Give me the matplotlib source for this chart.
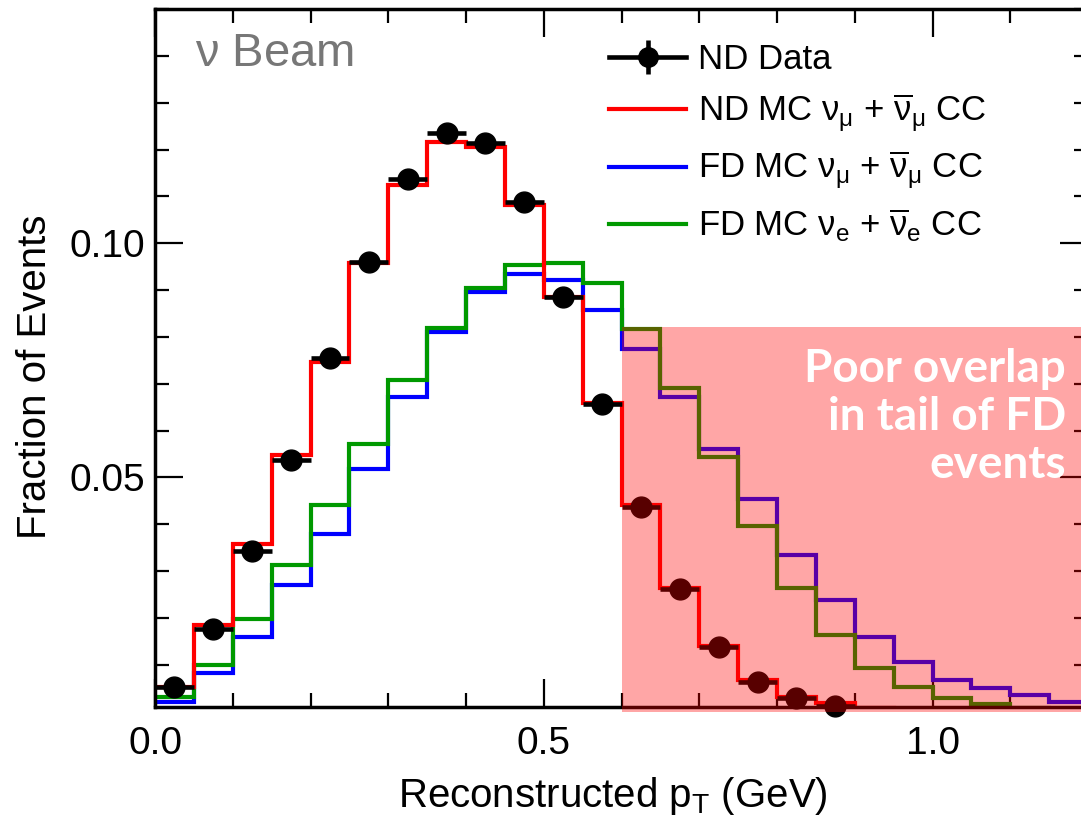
import numpy as np
import matplotlib
matplotlib.use("Agg")
import matplotlib.pyplot as plt
from matplotlib.patches import Rectangle

plt.rcParams['font.family'] = ['Liberation Sans', 'DejaVu Sans']
plt.rcParams['mathtext.fontset'] = 'custom'
plt.rcParams['mathtext.rm'] = 'Liberation Sans'
plt.rcParams['mathtext.it'] = 'Liberation Sans'
plt.rcParams['mathtext.bf'] = 'Liberation Sans:bold'

# bin edges in reconstructed pT (GeV), 0.05 wide
edges = np.linspace(0.0, 1.2, 25)

nd_mc = [0.0053, 0.0186, 0.0357, 0.0549, 0.0746, 0.0957, 0.1124, 0.1216,
         0.1205, 0.1081, 0.0885, 0.0658, 0.0442, 0.0265, 0.0140, 0.0068,
         0.0032, 0.0018, 0.0008, 0.0005, 0.0003, 0.0002, 0.0001, 0.0001]
fd_numu = [0.0021, 0.0083, 0.0159, 0.0270, 0.0379, 0.0518, 0.0672, 0.0810,
           0.0896, 0.0934, 0.0922, 0.0857, 0.0774, 0.0672, 0.0561, 0.0455,
           0.0334, 0.0238, 0.0160, 0.0107, 0.0068, 0.0051, 0.0036, 0.0021]
fd_nue = [0.0031, 0.0100, 0.0198, 0.0313, 0.0441, 0.0571, 0.0708, 0.0819,
          0.0904, 0.0953, 0.0957, 0.0915, 0.0818, 0.0690, 0.0544, 0.0396,
          0.0263, 0.0164, 0.0093, 0.0053, 0.0029, 0.0016, 0.0008, 0.0005]
nd_data = [0.0053, 0.0177, 0.0343, 0.0537, 0.0755, 0.0960, 0.1137, 0.1235,
           0.1214, 0.1088, 0.0885, 0.0657, 0.0438, 0.0262, 0.0139, 0.0064,
           0.0029, 0.0012]
nd_data_err = [0.0005] * len(nd_data)

tail_start = 0.6
tail_top = 0.0822

labels = ['ND Data',
          r'ND MC $\nu_{\mu}$ + $\overline{\nu}_{\mu}$ CC',
          r'FD MC $\nu_{\mu}$ + $\overline{\nu}_{\mu}$ CC',
          r'FD MC $\nu_{e}$ + $\overline{\nu}_{e}$ CC']

fig = plt.figure(figsize=(10.81, 8.24), dpi=100)
ax = fig.add_axes([0.1434, 0.142, 0.8631, 0.847])

centers = 0.5 * (edges[:-1] + edges[1:])
halfw = 0.5 * np.diff(edges)

ax.stairs(fd_numu, edges, baseline=None, color='#0000ff', lw=3, zorder=2)
ax.stairs(fd_nue, edges, baseline=None, color='#009900', lw=3, zorder=2.1)
ax.stairs(nd_mc, edges, baseline=None, color='#ff0000', lw=3, zorder=2.2)
n = len(nd_data)
dat = ax.errorbar(centers[:n], nd_data, xerr=halfw[:n], yerr=nd_data_err,
                  fmt='o', color='black', ms=15, elinewidth=3.3, capsize=0,
                  zorder=3)
dat[0].set_clip_on(False)
for b in dat[2]:
    b.set_clip_on(False)

ax.set_xlim(0, 1.2)
ax.set_ylim(0.001, 0.15)
ax.set_xticks([0, 0.5, 1.0])
ax.set_xticklabels(['0.0', '0.5', '1.0'])
ax.set_xticks(np.arange(0, 1.21, 0.1), minor=True)
ax.set_yticks([0.05, 0.10])
ax.set_yticklabels(['0.05', '0.10'])
ax.set_yticks(np.arange(0.01, 0.151, 0.01), minor=True)
ax.tick_params(which='both', direction='in', top=True, right=True,
               width=1.6, labelsize=28)
ax.tick_params(axis='y', pad=7)
ax.tick_params(axis='x', pad=14)
ax.tick_params(which='major', length=20)
ax.tick_params(which='minor', length=10)
for s in ax.spines.values():
    s.set_linewidth(2.5)

ax.set_xlabel(r'Reconstructed p$_{\mathregular{T}}$ (GeV)', fontsize=29)
ax.xaxis.set_label_coords(0.491, -0.098)
ax.set_ylabel('Fraction of Events', fontsize=29)
ax.yaxis.set_label_coords(-0.108, 0.473)

ax.text(0.043, 0.935, r'$\nu$ Beam', transform=ax.transAxes, fontsize=34,
        color='#777777', va='center')

data_handle = (plt.Line2D([], [], color='black', lw=3.3, marker='o', ms=14),
               plt.Line2D([], [], color='black', ls='', marker='|', ms=24, mew=3.3))
leg_handles = [data_handle] + [plt.Line2D([], [], color=c, lw=3)
                               for c in ['#ff0000', '#0000ff', '#009900']]
ax.legend(leg_handles, labels, loc='upper left', bbox_to_anchor=(0.461, 0.986),
          frameon=False, fontsize=25, handlelength=2.2, handletextpad=0.35,
          labelspacing=0.44, borderaxespad=0.3)

# shaded tail region
rect = Rectangle((tail_start, 0), 0.7, tail_top, facecolor='red', alpha=0.35,
                 edgecolor='none', zorder=10, clip_on=False)
ax.add_patch(rect)

lines = ['Poor overlap', 'in tail of FD', 'events']
for i, t in enumerate(lines):
    fig.text(1066 / 1081, 1 - (382 + 48 * i) / 824, t, ha='right', va='baseline',
             color='white', fontsize=33, family='Lato', weight='bold', zorder=11)

fig.savefig('out.png', dpi=100)
